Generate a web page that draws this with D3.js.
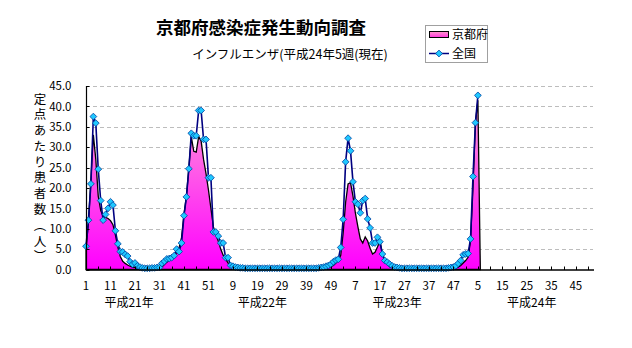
<!DOCTYPE html>
<html><head><meta charset="utf-8">
<script src="https://cdn.jsdelivr.net/npm/d3@7"></script>
<style>
html,body{margin:0;padding:0;background:#fff;}
text{font-family:"Noto Sans CJK JP","Noto Sans",sans-serif;}
</style></head>
<body><svg id="c" width="632" height="348"></svg>
<script>
const title = "京都府感染症発生動向調査";
const subtitle = "インフルエンザ(平成24年5週(現在)";
const yTitle = "定点あたり患者数（人）";
const years = ["平成21年","平成22年","平成23年","平成24年"];
const weeksPerYear = 52;
const yearLabelPos = [17.6, 72, 127, 182];
const xTickLabels = ["1","11","21","31","41","51","9","19","29","39","49","7","17","27","37","47","5","15","25","35","45"];
const yTicks = [0,5,10,15,20,25,30,35,40,45];
const seriesNames = ["京都府","全国"];

// 全国 (national), H21 w1 .. H24 w5
const national = [
 5.7,12.1,21.0,37.5,35.9,24.6,16.9,12.1,13.5,15.0,
 16.6,15.8,9.5,6.3,4.4,4.3,3.7,3.3,1.9,1.3,
 1.6,0.9,0.6,0.4,0.3,0.3,0.3,0.4,0.4,0.5,
 0.5,1.5,2.0,2.6,2.7,2.9,3.4,5.0,4.4,6.5,
 13.2,17.8,24.7,33.4,32.8,32.8,39.0,39.0,31.9,31.9,
 22.5,22.5,9.2,9.2,8.2,6.5,6.5,2.9,2.9,1.0,
 0.8,0.6,0.5,0.4,0.4,0.3,0.3,0.3,0.3,0.3,
 0.3,0.3,0.3,0.3,0.3,0.3,0.3,0.3,0.3,0.3,
 0.3,0.3,0.3,0.3,0.3,0.3,0.3,0.3,0.3,0.3,
 0.3,0.3,0.3,0.3,0.3,0.4,0.5,0.6,0.8,1.0,
 1.3,1.9,2.3,2.5,5.4,12.3,26.4,32.2,29.1,21.5,
 16.6,16.0,13.9,16.9,17.4,12.4,10.2,6.5,6.5,7.9,
 6.8,3.8,2.2,1.8,1.3,0.9,0.6,0.5,0.4,0.3,
 0.3,0.3,0.3,0.3,0.3,0.3,0.3,0.3,0.3,0.3,
 0.3,0.3,0.3,0.3,0.3,0.3,0.3,0.3,0.4,0.5,
 0.6,0.9,1.5,2.2,3.6,3.8,3.9,7.5,22.8,36.0,
 42.7
];
// 京都府 (Kyoto), H21 w1 .. H24 w5
const kyoto = [
 5.0,11.5,22.0,33.0,27.0,18.0,14.5,13.0,12.8,12.5,
 12.0,11.0,8.5,5.5,3.2,2.0,1.5,1.1,0.8,0.6,
 0.5,0.4,0.3,0.3,0.2,0.2,0.2,0.2,0.3,0.3,
 0.4,0.6,1.2,1.8,2.3,2.8,3.2,4.2,5.3,7.8,
 13.5,18.0,25.0,32.5,29.0,28.8,32.6,31.5,27.0,23.5,
 19.5,15.0,10.5,8.5,7.0,5.0,3.5,2.6,1.6,1.1,
 0.8,0.6,0.4,0.3,0.3,0.2,0.2,0.2,0.2,0.2,
 0.2,0.2,0.2,0.2,0.2,0.2,0.2,0.2,0.2,0.2,
 0.2,0.2,0.2,0.2,0.2,0.2,0.2,0.2,0.2,0.2,
 0.2,0.2,0.2,0.2,0.2,0.2,0.3,0.3,0.4,0.5,
 0.7,1.0,1.6,2.2,3.5,9.0,16.5,21.0,21.3,18.0,
 13.8,10.5,7.5,6.5,8.0,7.0,5.2,3.8,4.2,5.5,
 7.0,4.0,2.2,1.3,0.7,0.5,0.4,0.3,0.2,0.2,
 0.2,0.2,0.2,0.2,0.2,0.2,0.2,0.2,0.2,0.2,
 0.2,0.2,0.2,0.2,0.2,0.2,0.2,0.2,0.2,0.2,
 0.2,0.4,0.6,1.0,1.6,2.2,3.0,7.0,20.0,36.0,
 41.5
];

const categories = [];
years.forEach(yr => { for (let w = 1; w <= weeksPerYear; w++) categories.push(yr + w + "週"); });

const svg = d3.select("#c");
const x = d3.scaleLinear().domain([0, categories.length - 1]).range([86, 593]);
const y = d3.scaleLinear().domain([0, 45]).range([269.5, 86]);

// gradient
const defs = svg.append("defs");
const g1 = defs.append("linearGradient").attr("id","pk").attr("gradientUnits","userSpaceOnUse")
  .attr("x1",0).attr("x2",0).attr("y1",y(0)).attr("y2",y(45));
g1.append("stop").attr("offset",0).attr("stop-color","#FF00FF");
g1.append("stop").attr("offset",1).attr("stop-color","#FFA8D4");
const g2 = defs.append("linearGradient").attr("id","pkl").attr("x1",0).attr("x2",0).attr("y1",1).attr("y2",0);
g2.append("stop").attr("offset",0).attr("stop-color","#FF33DD");
g2.append("stop").attr("offset",1).attr("stop-color","#FF99CC");

// title
svg.append("text").attr("x",261).attr("y",34).attr("text-anchor","middle")
  .attr("font-size",17.5).attr("font-weight",600).attr("fill","#000").text(title);
svg.append("text").attr("x",290).attr("y",58.5).attr("text-anchor","middle")
  .attr("font-size",12.5).attr("fill","#000").text(subtitle);

// gridlines
svg.append("g").selectAll("line").data(yTicks.filter(d => d > 0)).join("line")
  .attr("x1",86).attr("x2",593).attr("y1",d => Math.round(y(d))+0.5).attr("y2",d => Math.round(y(d))+0.5)
  .attr("stroke","#BDBDBD").attr("stroke-width",1).attr("stroke-dasharray","4,3");

// Kyoto area
const areaPts = kyoto.map((v,i) => [i,v]).concat([[kyoto.length, 0]]);
const area = d3.area().x(d => x(d[0])).y0(y(0)).y1(d => y(d[1]));
svg.append("path").datum(areaPts).attr("d",area)
  .attr("fill","url(#pk)").attr("stroke","#000").attr("stroke-width",1.3).attr("stroke-linejoin","miter");

// national line
const line = d3.line().x((d,i) => x(i)).y(d => y(d));
svg.append("path").datum(national).attr("d",line)
  .attr("fill","none").attr("stroke","#000080").attr("stroke-width",1.6);
const dia = "M0,-3.4L3.4,0L0,3.4L-3.4,0Z";
svg.append("g").selectAll("path").data(national).join("path")
  .attr("d",dia).attr("transform",(d,i) => `translate(${x(i)},${y(d)})`)
  .attr("fill","#1FC8FF").attr("stroke","#0040A0").attr("stroke-width",0.8);

// y axis
const yAxis = d3.axisLeft(y).tickValues(yTicks).tickFormat(d3.format(".1f")).tickSize(0).tickPadding(15);
const ya = svg.append("g").attr("transform","translate(86.5,0)").call(yAxis);
ya.select(".domain").remove();
ya.selectAll("text").attr("font-size",11.5).attr("fill","#000").attr("font-family","'Liberation Sans',Arial,sans-serif");
svg.append("line").attr("x1",86.5).attr("x2",86.5).attr("y1",86).attr("y2",270).attr("stroke","#000").attr("stroke-width",1.2);
svg.append("g").selectAll("line").data(yTicks).join("line")
  .attr("x1",86.5).attr("x2",89.5).attr("y1",d => Math.round(y(d))+0.5).attr("y2",d => Math.round(y(d))+0.5)
  .attr("stroke","#000");

// x axis
const tick5 = d3.range(0, categories.length, 5);
svg.append("line").attr("x1",86).attr("x2",594).attr("y1",270).attr("y2",270).attr("stroke","#000").attr("stroke-width",1.3);
svg.append("g").selectAll("line").data(tick5).join("line")
  .attr("x1",d => Math.round(x(d))+0.5).attr("x2",d => Math.round(x(d))+0.5).attr("y1",270).attr("y2",266.5)
  .attr("stroke","#000");
svg.append("g").selectAll("text").data(xTickLabels).join("text")
  .attr("x",(d,i) => x(i*10)).attr("y",289.5).attr("text-anchor","middle")
  .attr("font-size",11.5).attr("font-family","'Liberation Sans',Arial,sans-serif").text(d => d);
svg.append("g").selectAll("text").data(years).join("text")
  .attr("x",(d,i) => x(yearLabelPos[i])).attr("y",306.5).attr("text-anchor","middle")
  .attr("font-size",12).text(d => d);

// y title (vertical)
svg.append("text").attr("x",40).attr("y",92.5)
  .style("writing-mode","vertical-rl").attr("font-size",12.5).attr("letter-spacing",3.3)
  .text(yTitle);

// legend
const lg = svg.append("g");
lg.append("rect").attr("x",425.5).attr("y",25.5).attr("width",62).attr("height",37)
  .attr("fill","#fff").attr("stroke","#A0A0A0");
lg.append("rect").attr("x",429.5).attr("y",31.5).attr("width",19).attr("height",6)
  .attr("fill","url(#pkl)").attr("stroke","#000");
lg.append("text").attr("x",452).attr("y",39).attr("font-size",12).text(seriesNames[0]);
lg.append("line").attr("x1",429).attr("x2",449).attr("y1",53.5).attr("y2",53.5).attr("stroke","#000080").attr("stroke-width",1.5);
lg.append("path").attr("d",dia).attr("transform","translate(439,53.5)").attr("fill","#1FC8FF").attr("stroke","#0040A0").attr("stroke-width",0.8);
lg.append("text").attr("x",452).attr("y",57.5).attr("font-size",12).text(seriesNames[1]);
</script>
</body></html>
